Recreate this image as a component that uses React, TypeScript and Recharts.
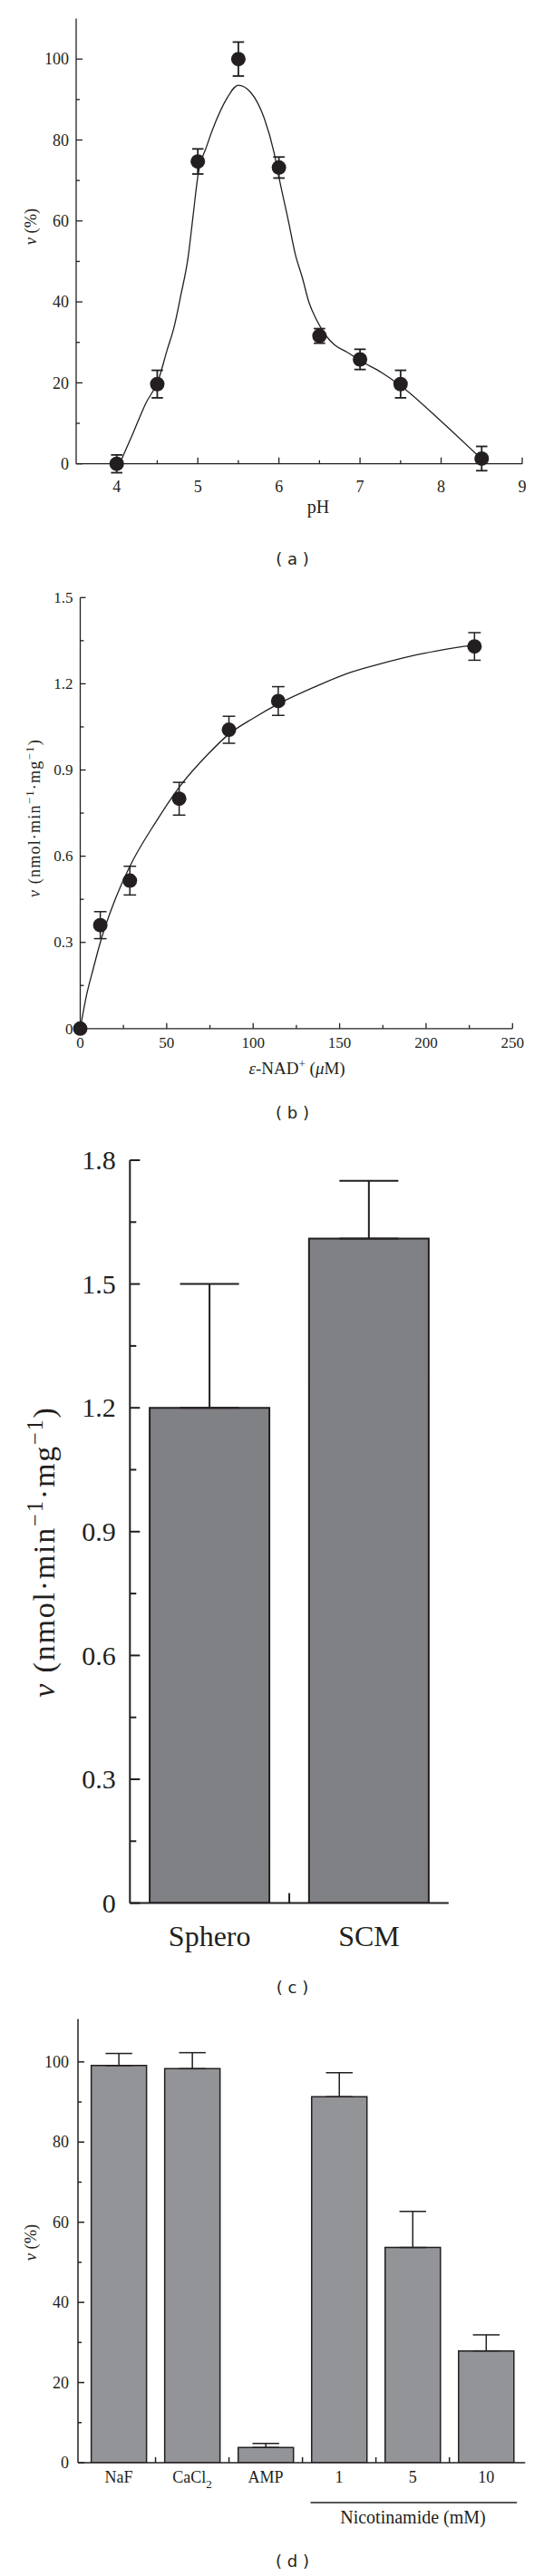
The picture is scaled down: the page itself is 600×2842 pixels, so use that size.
import React from "react";
import { ComposedChart, Scatter, Line, Bar, XAxis, YAxis, ErrorBar } from "recharts";

const SERIF = '"Liberation Serif", "Times New Roman", serif';
const SANS = '"DejaVu Sans", Verdana, sans-serif';
const INK = "#231f20";

// (a) activity vs pH
const phValues = [4, 4.5, 5, 5.5, 6, 6.5, 7, 7.5, 8.5];
const phActivity = [0, 19.7, 74.7, 100, 73.2, 31.6, 25.8, 19.7, 1.3];
const phError = [2.2, 3.4, 3.1, 4.2, 2.6, 1.8, 2.5, 3.4, 3];
const phFitX = [4.04, 4.2, 4.36, 4.51, 4.62, 4.71, 4.79, 4.88, 4.94, 5.0, 5.11, 5.22, 5.35, 5.5, 5.65, 5.82, 5.94, 6.01, 6.12, 6.2, 6.29, 6.37, 6.46, 6.59, 6.69, 6.84, 7.01, 7.27, 7.5, 8.0, 8.49];
const phFitY = [0.2, 7.5, 15, 20.5, 28, 34, 41.6, 51, 61, 71, 78.5, 84.5, 90, 93.5, 91.8, 85.3, 76.9, 69.9, 59.7, 51.9, 45.9, 39.9, 35.7, 31.4, 29.3, 27.6, 25.4, 22.5, 19.3, 10.5, 1.3];
const phXTicks = [4, 4.5, 5, 5.5, 6, 6.5, 7, 7.5, 8, 8.5, 9];
const phXMajor = [4, 5, 6, 7, 8, 9];
const phYTicks = [0, 10, 20, 30, 40, 50, 60, 70, 80, 90, 100];
const phYMajor = [0, 20, 40, 60, 80, 100];

// (b) activity vs e-NAD+
const nadConc = [0, 11.6, 28.7, 57.2, 86, 114.5, 228];
const nadRate = [0, 0.36, 0.515, 0.8, 1.04, 1.14, 1.33];
const nadError = [0, 0.047, 0.05, 0.057, 0.047, 0.05, 0.048];
const nadFitX = [0, 3.6, 7.6, 11.6, 17.7, 23.7, 28.7, 43.8, 57.2, 73.9, 86, 100, 114.5, 134, 154, 174, 194, 228];
const nadFitY = [0, 0.115, 0.21, 0.3, 0.41, 0.5, 0.565, 0.72, 0.84, 0.955, 1.025, 1.08, 1.13, 1.185, 1.235, 1.27, 1.3, 1.336];
const nadXTicks = [0, 25, 50, 75, 100, 125, 150, 175, 200, 225, 250];
const nadXMajor = [0, 50, 100, 150, 200, 250];
const nadYTicks = [0, 0.15, 0.3, 0.45, 0.6, 0.75, 0.9, 1.05, 1.2, 1.35, 1.5];
const nadYMajor = [0, 0.3, 0.6, 0.9, 1.2, 1.5];

// (c) Sphero vs SCM
const cellTypes = ["Sphero", "SCM"];
const cellRate = [1.2, 1.61];
const cellError = [0.3, 0.14];
const cellYTicks = [0, 0.15, 0.3, 0.45, 0.6, 0.75, 0.9, 1.05, 1.2, 1.35, 1.5, 1.65, 1.8];
const cellYMajor = [0, 0.3, 0.6, 0.9, 1.2, 1.5, 1.8];

// (d) effectors
const effectors = ["NaF", "CaCl2", "AMP", "1", "5", "10"];
const effActivity = [99.1, 98.3, 3.8, 91.3, 53.7, 27.9];
const effError = [3, 4, 1, 6, 9, 4];
const effYTicks = [0, 10, 20, 30, 40, 50, 60, 70, 80, 90, 100];
const effYMajor = [0, 20, 40, 60, 80, 100];

type Side = "left" | "right" | "top" | "bottom";
interface TickOpts {
  side: Side;
  major: (string | number)[];
  majorLen: number;
  minorLen?: number;
  strokeWidth: number;
  label?: boolean;
  gap?: number;
  fontSize?: number;
  divider?: number;
  render?: (v: any) => React.ReactNode;
}

// ticks point inward; tickSize/tickMargin are 0 so x/y sit on the axis line
function makeTick(o: TickOpts) {
  return (props: any) => {
    const { x, y, payload, index, visibleTicksCount } = props;
    const v = payload.value;
    const isMajor = o.major.includes(v);
    const len = isMajor ? o.majorLen : o.minorLen ?? 0;
    const s = { stroke: INK, strokeWidth: o.strokeWidth };
    const parts: React.ReactNode[] = [];
    if (len > 0) {
      if (o.side === "left") parts.push(<line key="t" x1={x} y1={y} x2={x + len} y2={y} {...s} />);
      if (o.side === "right") parts.push(<line key="t" x1={x - len} y1={y} x2={x} y2={y} {...s} />);
      if (o.side === "bottom") parts.push(<line key="t" x1={x} y1={y} x2={x} y2={y - len} {...s} />);
      if (o.side === "top") parts.push(<line key="t" x1={x} y1={y} x2={x} y2={y + len} {...s} />);
    }
    if (o.divider && index < visibleTicksCount - 1) {
      const dx = x + (payload.offset ?? 0);
      const y2 = o.side === "top" ? y + o.divider : y - o.divider;
      parts.push(<line key="d" x1={dx} y1={y} x2={dx} y2={y2} {...s} />);
    }
    if (o.label && isMajor) {
      const content = o.render ? o.render(v) : String(v);
      const common = { fontFamily: SERIF, fontSize: o.fontSize, fill: INK };
      if (o.side === "left")
        parts.push(
          <text key="l" x={x - (o.gap ?? 0)} y={y} dy="0.34em" textAnchor="end" {...common}>
            {content}
          </text>
        );
      if (o.side === "bottom")
        parts.push(
          <text key="l" x={x} y={y + (o.gap ?? 0)} textAnchor="middle" {...common}>
            {content}
          </text>
        );
    }
    return <g>{parts}</g>;
  };
}

const dot = (p: any) => <circle cx={p.cx} cy={p.cy} r={8} fill={INK} />;
const noShape = () => <g />;

const Caption = ({ text, baseline }: { text: string; baseline: number }) => (
  <div
    style={{
      position: "absolute",
      left: 0,
      width: 645,
      top: baseline - 16.2,
      textAlign: "center",
      fontFamily: SANS,
      fontSize: 18,
      lineHeight: "20px",
      whiteSpace: "pre",
      color: INK,
    }}
  >
    {text}
  </div>
);

const vTitle = (x: number, y: number, size: number, unit: "pct" | "rate", spacing = 0) => () => (
  <text
    x={x}
    y={y}
    transform={`rotate(-90 ${x} ${y})`}
    textAnchor="middle"
    fontFamily={SERIF}
    fontSize={size}
    fill={INK}
    letterSpacing={spacing}
  >
    <tspan fontStyle="italic">v</tspan>
    {unit === "pct" ? (
      <tspan> (%)</tspan>
    ) : (
      <>
        <tspan> (nmol·min</tspan>
        <tspan dy={-size * 0.38} fontSize={size * 0.72}>−1</tspan>
        <tspan dy={size * 0.38}>·mg</tspan>
        <tspan dy={-size * 0.38} fontSize={size * 0.72}>−1</tspan>
        <tspan dy={size * 0.38}>)</tspan>
      </>
    )}
  </text>
);

function PanelA() {
  const points = phValues.map((x, i) => ({ x, y: phActivity[i], e: phError[i] }));
  const fit = phFitX.map((x, i) => ({ x, y: phFitY[i] }));
  const frame = { stroke: INK, strokeWidth: 1.3 };
  return (
    <ComposedChart width={600} height={580} margin={{ top: 20.5, right: 24, bottom: 8.3, left: 0 }}>
      <XAxis
        dataKey="x"
        type="number"
        domain={[3.5, 9]}
        ticks={phXTicks}
        interval={0}
        height={60}
        tickSize={0}
        tickMargin={0}
        tickLine={false}
        axisLine={frame}
        tick={makeTick({ side: "bottom", major: phXMajor, majorLen: 7, minorLen: 4, strokeWidth: 1.3, label: true, gap: 31, fontSize: 18 })}
        label={() => (
          <text x={351} y={566} textAnchor="middle" fontFamily={SERIF} fontSize={20} fill={INK}>
            pH
          </text>
        )}
      />
      <YAxis
        type="number"
        domain={[0, 110]}
        ticks={phYTicks}
        interval={0}
        allowDataOverflow
        width={84}
        tickSize={0}
        tickMargin={0}
        tickLine={false}
        axisLine={frame}
        tick={makeTick({ side: "left", major: phYMajor, majorLen: 7, minorLen: 4, strokeWidth: 1.3, label: true, gap: 8, fontSize: 18 })}
        label={vTitle(40, 250, 18.5, "pct")}
      />
      <YAxis yAxisId="dots" type="number" domain={[0, 110]} hide />
      <XAxis xAxisId="top" orientation="top" type="number" domain={[3.5, 9]} allowDataOverflow height={0} tick={false} tickLine={false} axisLine={frame} />
      <YAxis yAxisId="right" orientation="right" type="number" domain={[0, 110]} allowDataOverflow width={0} tick={false} tickLine={false} axisLine={frame} />
      <Line data={fit} dataKey="y" type="monotone" stroke={INK} strokeWidth={1.3} dot={false} isAnimationActive={false} />
      <Scatter data={points} dataKey="y" shape={noShape} isAnimationActive={false}>
        <ErrorBar dataKey="e" direction="y" width={6.3} stroke={INK} strokeWidth={1.8} />
      </Scatter>
      <Scatter data={points} dataKey="y" yAxisId="dots" shape={dot} isAnimationActive={false} />
    </ComposedChart>
  );
}

function PanelB() {
  const points = nadConc.map((x, i) => ({ x, y: nadRate[i], e: nadError[i] }));
  const fit = nadFitX.map((x, i) => ({ x, y: nadFitY[i] }));
  const frame = { stroke: INK, strokeWidth: 1.3 };
  return (
    <ComposedChart width={600} height={560} margin={{ top: 19.3, right: 34.7, bottom: 5.2, left: 0 }}>
      <XAxis
        dataKey="x"
        type="number"
        domain={[0, 250]}
        ticks={nadXTicks}
        interval={0}
        height={60}
        tickSize={0}
        tickMargin={0}
        tickLine={false}
        axisLine={frame}
        tick={makeTick({ side: "bottom", major: nadXMajor, majorLen: 6, minorLen: 4, strokeWidth: 1.3, label: true, gap: 20.7, fontSize: 17 })}
        label={() => (
          <text x={327.6} y={545} textAnchor="middle" fontFamily={SERIF} fontSize={19} fill={INK}>
            <tspan fontStyle="italic">ε</tspan>
            <tspan>-NAD</tspan>
            <tspan dy={-7} fontSize={13}>+</tspan>
            <tspan dy={7}> (</tspan>
            <tspan fontStyle="italic">μ</tspan>
            <tspan>M)</tspan>
          </text>
        )}
      />
      <YAxis
        type="number"
        domain={[0, 1.5]}
        ticks={nadYTicks}
        interval={0}
        width={88.5}
        tickSize={0}
        tickMargin={0}
        tickLine={false}
        axisLine={frame}
        tick={makeTick({ side: "left", major: nadYMajor, majorLen: 6, minorLen: 4, strokeWidth: 1.3, label: true, gap: 8, fontSize: 17 })}
        label={vTitle(44, 262.6, 18, "rate", 1.2)}
      />
      <XAxis xAxisId="top" orientation="top" type="number" domain={[0, 250]} allowDataOverflow height={0} tick={false} tickLine={false} axisLine={frame} />
      <YAxis yAxisId="right" orientation="right" type="number" domain={[0, 1.5]} allowDataOverflow width={0} tick={false} tickLine={false} axisLine={frame} />
      <Line data={fit} dataKey="y" type="monotone" stroke={INK} strokeWidth={1.3} dot={false} isAnimationActive={false} />
      <Scatter data={points} dataKey="y" shape={dot} isAnimationActive={false}>
        <ErrorBar dataKey="e" direction="y" width={6.9} stroke={INK} strokeWidth={1.5} />
      </Scatter>
    </ComposedChart>
  );
}

function PanelC() {
  const data = cellTypes.map((name, i) => ({ name, v: cellRate[i], e: [0, cellError[i]] }));
  const frame = { stroke: INK, strokeWidth: 2 };
  return (
    <ComposedChart width={600} height={920} data={data} margin={{ top: 30, right: 105.2, bottom: 10.4, left: 0 }} barCategoryGap="12.4%">
      <XAxis
        dataKey="name"
        type="category"
        interval={0}
        height={60}
        tickSize={0}
        tickMargin={0}
        tickLine={false}
        axisLine={frame}
        tick={makeTick({ side: "bottom", major: cellTypes, majorLen: 0, strokeWidth: 2, label: true, gap: 47, fontSize: 32, divider: 11 })}
      />
      <YAxis
        type="number"
        domain={[0, 1.8]}
        ticks={cellYTicks}
        interval={0}
        allowDataOverflow
        width={143.3}
        tickSize={0}
        tickMargin={0}
        tickLine={false}
        axisLine={frame}
        tick={makeTick({ side: "left", major: cellYMajor, majorLen: 11, minorLen: 7, strokeWidth: 2, label: true, gap: 15.6, fontSize: 30 })}
        label={vTitle(60, 462, 34, "rate", 1.8)}
      />
      <XAxis
        xAxisId="top"
        orientation="top"
        type="number"
        domain={[0, 2]}
        ticks={[1]}
        interval={0}
        allowDataOverflow
        height={0}
        tickSize={0}
        tickMargin={0}
        tickLine={false}
        axisLine={frame}
        tick={makeTick({ side: "top", major: [1], majorLen: 10, strokeWidth: 2 })}
      />
      <YAxis
        yAxisId="right"
        orientation="right"
        type="number"
        domain={[0, 1.8]}
        ticks={cellYTicks}
        interval={0}
        allowDataOverflow
        width={0}
        tickSize={0}
        tickMargin={0}
        tickLine={false}
        axisLine={frame}
        tick={makeTick({ side: "right", major: cellYMajor, majorLen: 11, minorLen: 6, strokeWidth: 2 })}
      />
      <Bar dataKey="v" fill="#808184" stroke={INK} strokeWidth={2} isAnimationActive={false}>
        <ErrorBar dataKey="e" direction="y" width={32.5} stroke={INK} strokeWidth={2} />
      </Bar>
    </ComposedChart>
  );
}

function PanelD() {
  const data = effectors.map((name, i) => ({ name, v: effActivity[i], e: [0, effError[i]] }));
  const frame = { stroke: INK, strokeWidth: 1.5 };
  const catLabel = (v: string) =>
    v === "CaCl2" ? (
      <>
        <tspan>CaCl</tspan>
        <tspan dy={6} fontSize={13}>2</tspan>
      </>
    ) : (
      v
    );
  return (
    <ComposedChart width={600} height={600} data={data} margin={{ top: 27.5, right: 20.7, bottom: 23, left: 0 }} barCategoryGap="12.5%">
      <XAxis
        dataKey="name"
        type="category"
        interval={0}
        height={60}
        padding={{ left: 4.5, right: 2.6 }}
        tickSize={0}
        tickMargin={0}
        tickLine={false}
        axisLine={frame}
        tick={makeTick({ side: "bottom", major: effectors, majorLen: 0, strokeWidth: 1.5, label: true, gap: 22.3, fontSize: 18, divider: 6, render: catLabel })}
        label={() => (
          <g>
            <line x1={342.5} y1={561} x2={570.2} y2={561} stroke={INK} strokeWidth={1.3} />
            <text x={455.5} y={584} textAnchor="middle" fontFamily={SERIF} fontSize={20} fill={INK}>
              Nicotinamide (mM)
            </text>
          </g>
        )}
      />
      <YAxis
        type="number"
        domain={[0, 110.7]}
        ticks={effYTicks}
        interval={0}
        allowDataOverflow
        width={86}
        tickSize={0}
        tickMargin={0}
        tickLine={false}
        axisLine={frame}
        tick={makeTick({ side: "left", major: effYMajor, majorLen: 7, minorLen: 4, strokeWidth: 1.5, label: true, gap: 10, fontSize: 18 })}
        label={vTitle(40, 274, 18.5, "pct")}
      />
      <XAxis xAxisId="top" orientation="top" type="number" domain={[0, 1]} allowDataOverflow height={0} tick={false} tickLine={false} axisLine={frame} />
      <YAxis yAxisId="right" orientation="right" type="number" domain={[0, 110.7]} allowDataOverflow width={0} tick={false} tickLine={false} axisLine={frame} />
      <Bar dataKey="v" fill="#939498" stroke={INK} strokeWidth={1.5} isAnimationActive={false}>
        <ErrorBar dataKey="e" direction="y" width={14.7} stroke={INK} strokeWidth={1.5} />
      </Bar>
    </ComposedChart>
  );
}

export default function App() {
  return (
    <div style={{ position: "absolute", left: 0, top: 0, width: 600, height: 2842, background: "#fff", overflow: "hidden" }}>
      <div style={{ position: "absolute", left: 0, top: 0 }}>
        <PanelA />
      </div>
      <Caption text="( a )" baseline={623.5} />
      <div style={{ position: "absolute", left: 0, top: 640 }}>
        <PanelB />
      </div>
      <Caption text="( b )" baseline={1234.5} />
      <div style={{ position: "absolute", left: 0, top: 1250 }}>
        <PanelC />
      </div>
      <Caption text="( c )" baseline={2198.7} />
      <div style={{ position: "absolute", left: 0, top: 2200 }}>
        <PanelD />
      </div>
      <Caption text="( d )" baseline={2832} />
    </div>
  );
}
